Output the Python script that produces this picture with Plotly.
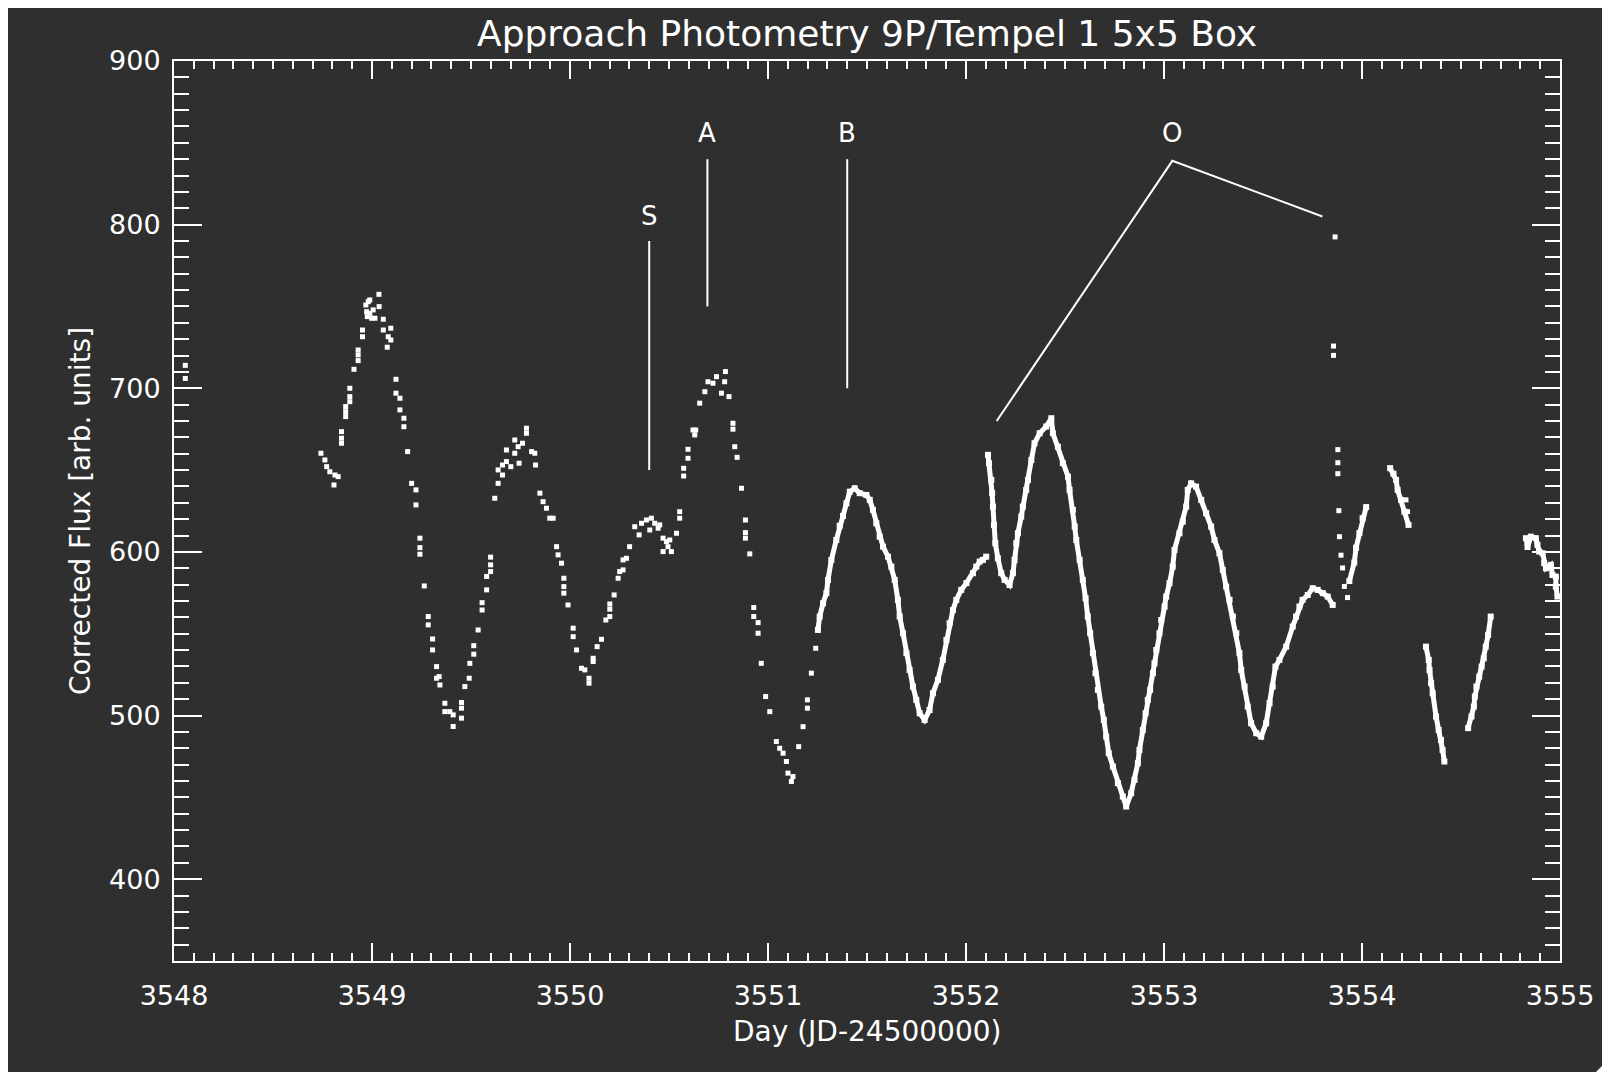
import plotly.graph_objects as go

# ---------------- data ----------------
# sparse photometry points (drawn as separate squares)
sparse_day = [
    3548.057, 3548.057,
    3548.742, 3548.762, 3548.771, 3548.787, 3548.813, 3548.829, 3548.808,
    3548.846, 3548.846, 3548.846, 3548.867, 3548.867, 3548.867,
    3548.888, 3548.888, 3548.888, 3548.909, 3548.930, 3548.930, 3548.930,
    3548.952, 3548.952, 3548.969, 3548.981, 3548.989, 3548.973, 3548.976,
    3548.989, 3549.006, 3548.998, 3549.015, 3549.036, 3549.035, 3549.057,
    3549.057, 3549.095, 3549.082, 3549.095, 3549.077, 3549.121, 3549.121,
    3549.141, 3549.141, 3549.161, 3549.161, 3549.180, 3549.200, 3549.222,
    3549.222, 3549.242, 3549.242, 3549.242, 3549.264, 3549.284, 3549.284,
    3549.306, 3549.306, 3549.326, 3549.339, 3549.343, 3549.326, 3549.368,
    3549.393, 3549.368, 3549.410, 3549.452, 3549.452, 3549.452, 3549.410,
    3549.469, 3549.491, 3549.494, 3549.514, 3549.514, 3549.536, 3549.556,
    3549.556, 3549.579, 3549.579, 3549.599, 3549.599, 3549.599,
    3549.620, 3549.637, 3549.637, 3549.659, 3549.659, 3549.679, 3549.679,
    3549.701, 3549.721, 3549.721, 3549.743, 3549.738, 3549.760, 3549.780,
    3549.780, 3549.806, 3549.822, 3549.826, 3549.848, 3549.864, 3549.881,
    3549.898, 3549.915, 3549.932, 3549.940, 3549.957, 3549.969, 3549.969,
    3549.969, 3549.990, 3550.016, 3550.016, 3550.033, 3550.058, 3550.075,
    3550.096, 3550.096, 3550.117, 3550.117, 3550.137, 3550.159, 3550.181,
    3550.201, 3550.201, 3550.201, 3550.223, 3550.243, 3550.251, 3550.268,
    3550.268, 3550.285, 3550.301, 3550.327, 3550.349, 3550.361, 3550.386,
    3550.403, 3550.411, 3550.428, 3550.445, 3550.453, 3550.470, 3550.487,
    3550.504, 3550.495, 3550.470, 3550.512, 3550.538, 3550.554, 3550.554,
    3550.574, 3550.574, 3550.596, 3550.596, 3550.621, 3550.635, 3550.630,
    3550.655, 3550.681, 3550.697, 3550.722, 3550.740, 3550.765, 3550.781,
    3550.785, 3550.803, 3550.823, 3550.823, 3550.832, 3550.844, 3550.866,
    3550.886, 3550.886, 3550.886, 3550.908, 3550.928, 3550.928, 3550.950,
    3550.950, 3550.966, 3550.988, 3551.009, 3551.042, 3551.059, 3551.076,
    3551.093, 3551.101, 3551.118, 3551.126, 3551.155, 3551.177, 3551.199,
    3551.199, 3551.219, 3551.241,
    # spike column near 3553.9
    3553.864, 3553.856, 3553.856, 3553.878, 3553.878, 3553.878, 3553.883,
    3553.886, 3553.894, 3553.902, 3553.911, 3553.927,
    # hook near 3554.22
    3554.222, 3554.230,
]
sparse_flux = [
    706.0, 714.0,
    660.3, 656.2, 652.1, 649.0, 647.0, 646.0, 640.9,
    673.5, 669.5, 666.4, 688.8, 685.7, 682.7,
    700.0, 694.9, 691.8, 711.6, 723.4, 720.4, 716.9,
    735.6, 731.5, 750.9, 752.9, 754.0, 746.8, 743.8,
    745.8, 747.9, 742.8, 742.8, 749.9, 757.4, 742.2,
    735.6, 736.7, 731.5, 729.5, 725.1, 705.5, 697.0,
    693.9, 686.8, 681.7, 676.5, 661.3, 641.9, 637.9,
    628.7, 608.4, 602.6, 598.6, 579.2, 560.5, 555.4,
    546.8, 540.1, 529.9, 523.8, 518.7, 522.8, 507.5,
    502.4, 502.4, 500.4, 498.4, 508.0, 504.5, 493.3,
    517.7, 522.8, 531.9, 537.5, 542.7, 552.3, 564.5,
    569.0, 576.8, 585.0, 588.0, 592.1, 596.8,
    632.8, 641.9, 650.1, 653.1, 647.0, 655.2, 662.3,
    652.1, 668.4, 660.3, 654.2, 664.3, 666.4, 675.6,
    672.5, 661.3, 660.3, 653.1, 635.9, 630.7, 626.7,
    620.6, 620.6, 603.2, 598.2, 593.1, 583.9, 578.8,
    574.8, 567.6, 553.4, 548.2, 540.1, 528.9, 527.9,
    522.8, 519.8, 535.0, 533.0, 542.1, 546.6, 558.4,
    560.5, 565.0, 568.2, 573.7, 583.9, 588.0, 589.0,
    595.1, 596.1, 603.2, 615.4, 610.4, 617.5, 619.5,
    613.4, 620.6, 617.5, 614.5, 616.5, 608.4, 606.3,
    607.3, 603.2, 600.2, 600.2, 611.4, 624.6, 620.6,
    651.1, 646.4, 662.7, 657.2, 674.5, 674.5, 671.5,
    690.9, 697.9, 704.0, 703.1, 707.1, 697.0, 704.0,
    710.2, 694.9, 678.6, 675.0, 664.3, 657.8, 638.9,
    619.5, 611.8, 608.4, 598.8, 566.0, 560.5, 556.8,
    550.3, 531.9, 511.6, 502.4, 484.1, 480.0, 477.0,
    471.9, 464.8, 459.7, 462.7, 481.0, 493.2, 504.5,
    509.6, 525.9, 541.1,
    792.5, 725.8, 720.1, 662.5, 654.5, 647.8, 625.2,
    609.3, 598.0, 590.2, 578.9, 572.1,
    631.8, 624.6,
]

# dense, continuous-looking runs of the light curve
run1_day = [3551.252, 3551.261, 3551.278, 3551.295, 3551.303, 3551.320, 3551.345,
            3551.362, 3551.379, 3551.396, 3551.413, 3551.438, 3551.463, 3551.497,
            3551.514, 3551.530, 3551.547, 3551.564, 3551.581, 3551.606, 3551.623,
            3551.640, 3551.656, 3551.665, 3551.682, 3551.699, 3551.715, 3551.732,
            3551.749, 3551.766, 3551.791, 3551.816, 3551.833, 3551.858, 3551.883,
            3551.901, 3551.917, 3551.934, 3551.951, 3551.976, 3552.002, 3552.035,
            3552.052, 3552.069, 3552.085, 3552.102]
run1_flux = [552.3, 560.5, 568.6, 574.8, 582.9, 595.1, 607.3,
             616.0, 622.0, 629.7, 636.8, 638.9, 635.9, 634.8,
             631.8, 625.7, 617.5, 609.3, 603.2, 597.1, 591.0,
             582.9, 570.7, 560.5, 550.3, 538.1, 527.9, 517.7,
             509.6, 501.4, 497.3, 503.4, 513.6, 521.8, 534.0,
             546.2, 556.4, 564.5, 570.7, 576.8, 580.9, 587.0,
             591.0, 594.1, 595.1, 597.1]

run2_day = [3552.111, 3552.116, 3552.128, 3552.132, 3552.136, 3552.141, 3552.148,
            3552.161, 3552.178, 3552.195, 3552.220, 3552.237, 3552.245, 3552.254,
            3552.262, 3552.279, 3552.287, 3552.304, 3552.313, 3552.330, 3552.346,
            3552.372, 3552.405, 3552.431, 3552.439, 3552.464, 3552.489, 3552.515,
            3552.523, 3552.540, 3552.549, 3552.557, 3552.574, 3552.590, 3552.604,
            3552.615, 3552.627, 3552.641, 3552.654, 3552.666, 3552.683, 3552.696,
            3552.708, 3552.721, 3552.742, 3552.767, 3552.792, 3552.809, 3552.834,
            3552.851, 3552.868, 3552.876, 3552.893, 3552.907, 3552.918, 3552.930,
            3552.944, 3552.952, 3552.961, 3552.977, 3552.986, 3553.003, 3553.011,
            3553.028, 3553.044, 3553.053, 3553.078, 3553.095, 3553.112, 3553.120,
            3553.137, 3553.162, 3553.188, 3553.213, 3553.238, 3553.255, 3553.280,
            3553.297, 3553.314, 3553.331, 3553.348, 3553.365, 3553.381, 3553.390,
            3553.407, 3553.423, 3553.440, 3553.466, 3553.491, 3553.516, 3553.533,
            3553.549, 3553.563, 3553.583, 3553.617, 3553.650, 3553.667, 3553.684,
            3553.700, 3553.726, 3553.751, 3553.776, 3553.802, 3553.827, 3553.852]
run2_flux = [659.3, 654.2, 644.0, 635.9, 627.7, 616.5, 605.3,
             596.1, 587.0, 582.9, 579.8, 587.0, 595.1, 605.3,
             611.4, 621.6, 627.7, 637.9, 644.0, 656.2, 666.4,
             672.5, 676.6, 681.7, 672.5, 664.3, 654.2, 646.0,
             637.9, 625.7, 615.5, 607.3, 595.1, 582.9, 571.7,
             560.5, 550.3, 538.1, 525.9, 515.7, 505.5, 497.3,
             487.1, 477.0, 468.8, 458.7, 450.5, 444.4, 452.5,
             460.7, 470.9, 479.0, 491.2, 501.4, 509.6, 515.7,
             525.9, 531.9, 540.1, 550.3, 558.4, 566.6, 572.7,
             580.9, 591.0, 601.2, 611.4, 618.5, 627.7, 637.9,
             641.9, 639.9, 631.8, 623.6, 615.5, 607.3, 599.2,
             589.0, 578.8, 570.7, 560.5, 550.3, 538.1, 527.9,
             517.7, 505.5, 495.3, 489.2, 487.1, 495.3, 507.5,
             517.7, 529.9, 534.0, 542.1, 554.4, 560.5, 566.6,
             570.7, 573.7, 577.8, 576.8, 574.8, 572.7, 567.6]

run3_day = [3553.936, 3553.961, 3553.970, 3553.987, 3554.003, 3554.021]
run3_flux = [582.2, 593.5, 602.6, 611.6, 620.6, 627.4]

run4_day = [3554.142, 3554.159, 3554.172, 3554.180, 3554.197, 3554.214, 3554.235]
run4_flux = [651.2, 647.8, 644.0, 637.9, 631.8, 624.6, 616.5]

run5_day = [3554.323, 3554.337, 3554.341, 3554.349, 3554.357, 3554.374, 3554.387,
            3554.399, 3554.407, 3554.416]
run5_flux = [542.1, 534.0, 527.9, 519.8, 513.6, 499.4, 491.2, 485.1, 479.0, 471.9]

run6_day = [3554.536, 3554.553, 3554.565, 3554.570, 3554.578, 3554.592, 3554.604,
            3554.615, 3554.625, 3554.637, 3554.650]
run6_flux = [492.3, 499.4, 505.5, 511.6, 517.7, 523.8, 529.9, 535.0, 542.1, 549.3, 560.5]

run7_day = [3554.828, 3554.836, 3554.853, 3554.878, 3554.886, 3554.895, 3554.912,
            3554.920, 3554.929, 3554.954, 3554.962, 3554.979, 3554.979, 3554.987]
run7_flux = [608.4, 603.0, 609.3, 608.4, 604.3, 600.2, 599.2,
             593.1, 590.0, 592.1, 585.9, 584.9, 578.8, 572.7]

runs = [(run1_day, run1_flux), (run2_day, run2_flux), (run3_day, run3_flux),
        (run4_day, run4_flux), (run5_day, run5_flux), (run6_day, run6_flux),
        (run7_day, run7_flux)]

# event markers: label, label position, and the guide line vertices
event_labels = ["S", "A", "B", "O"]
event_label_day = [3550.40, 3550.694, 3551.40, 3553.042]
event_label_flux = [805, 856, 856, 856]
event_lines = {
    "S": ([3550.40, 3550.40], [650, 790]),
    "A": ([3550.694, 3550.694], [750, 840]),
    "B": ([3551.40, 3551.40], [700, 840]),
    "O": ([3552.155, 3553.042, 3553.80], [680, 839, 805]),
}

x_ticks = [3548, 3549, 3550, 3551, 3552, 3553, 3554, 3555]
y_ticks = [400, 500, 600, 700, 800, 900]

title_text = "Approach Photometry 9P/Tempel 1 5x5 Box"
x_title = "Day (JD-24500000)"
y_title = "Corrected Flux [arb. units]"

# ---------------- figure ----------------
BG = "#2f2f2f"
FG = "white"
FONT = "DejaVu Sans"

fig = go.Figure()

for d, f in runs:
    fig.add_trace(go.Scatter(
        x=d, y=f, mode="lines+markers",
        line=dict(color=FG, width=5),
        marker=dict(symbol="square", size=6, color=FG, line=dict(width=0)),
        hoverinfo="skip", showlegend=False))

fig.add_trace(go.Scatter(
    x=sparse_day, y=sparse_flux, mode="markers",
    marker=dict(symbol="square", size=5, color=FG, line=dict(width=0)),
    hoverinfo="skip", showlegend=False))

for name, (lx, ly) in event_lines.items():
    fig.add_trace(go.Scatter(
        x=lx, y=ly, mode="lines", line=dict(color=FG, width=2),
        hoverinfo="skip", showlegend=False))

for lab, lx, ly in zip(event_labels, event_label_day, event_label_flux):
    fig.add_annotation(x=lx, y=ly, xref="x", yref="y", text=lab, showarrow=False,
                       font=dict(family=FONT, size=26, color=FG),
                       xanchor="center", yanchor="middle")

# the page body adds an 8px offset; margins below are chosen so the plot box
# lands at the reference's on-screen position
OFF = 8
W, H = 1610, 1072
ML, MR, MT, MB = 166, 58, 53, 119
PW, PH = W - ML - MR, H - MT - MB


def px_x(p):
    return (p - OFF - ML) / PW


def px_y(p):
    return (H - MB - (p - OFF)) / PH


fig.add_annotation(x=0.5, y=px_y(34), xref="paper", yref="paper", text=title_text,
                   showarrow=False, font=dict(family=FONT, size=36, color=FG),
                   xanchor="center", yanchor="middle")
fig.add_annotation(x=0.5, y=px_y(1031), xref="paper", yref="paper", text=x_title,
                   showarrow=False, font=dict(family=FONT, size=28, color=FG),
                   xanchor="center", yanchor="middle")
fig.add_annotation(x=px_x(80), y=0.5, xref="paper", yref="paper", text=y_title,
                   showarrow=False, textangle=-90,
                   font=dict(family=FONT, size=28, color=FG),
                   xanchor="center", yanchor="middle")

# small white corner at the bottom right of the picture
fig.add_shape(type="path", xref="paper", yref="paper",
              path=f"M {px_x(1610)},{px_y(1058)} L {px_x(1610)},{px_y(1072)} L {px_x(1596)},{px_y(1072)} Z",
              fillcolor="white", line=dict(width=0), layer="above")

axis_common = dict(
    showgrid=False, zeroline=False, showline=True, linecolor=FG, linewidth=2,
    mirror="ticks", ticks="inside", tickcolor=FG, tickwidth=2,
    tickfont=dict(family=FONT, size=27, color=FG),
)

fig.update_xaxes(range=[3548, 3555], tickvals=x_ticks,
                 ticktext=[str(v) for v in x_ticks], ticklen=18,
                 ticklabelstandoff=10,
                 minor=dict(dtick=0.1, ticklen=8, tickwidth=2, tickcolor=FG,
                            ticks="inside", showgrid=False),
                 **axis_common)
fig.update_yaxes(range=[350, 900], tickvals=y_ticks,
                 ticktext=[str(v) for v in y_ticks], ticklen=28,
                 ticklabelstandoff=6,
                 minor=dict(dtick=10, ticklen=15, tickwidth=2, tickcolor=FG,
                            ticks="inside", showgrid=False),
                 **axis_common)

fig.update_layout(
    width=W, height=H,
    margin=dict(l=ML, r=MR, t=MT, b=MB, autoexpand=False),
    paper_bgcolor=BG, plot_bgcolor=BG,
    font=dict(family=FONT, color=FG),
    showlegend=False,
)

fig.write_html("out.html", config={"displayModeBar": False})
